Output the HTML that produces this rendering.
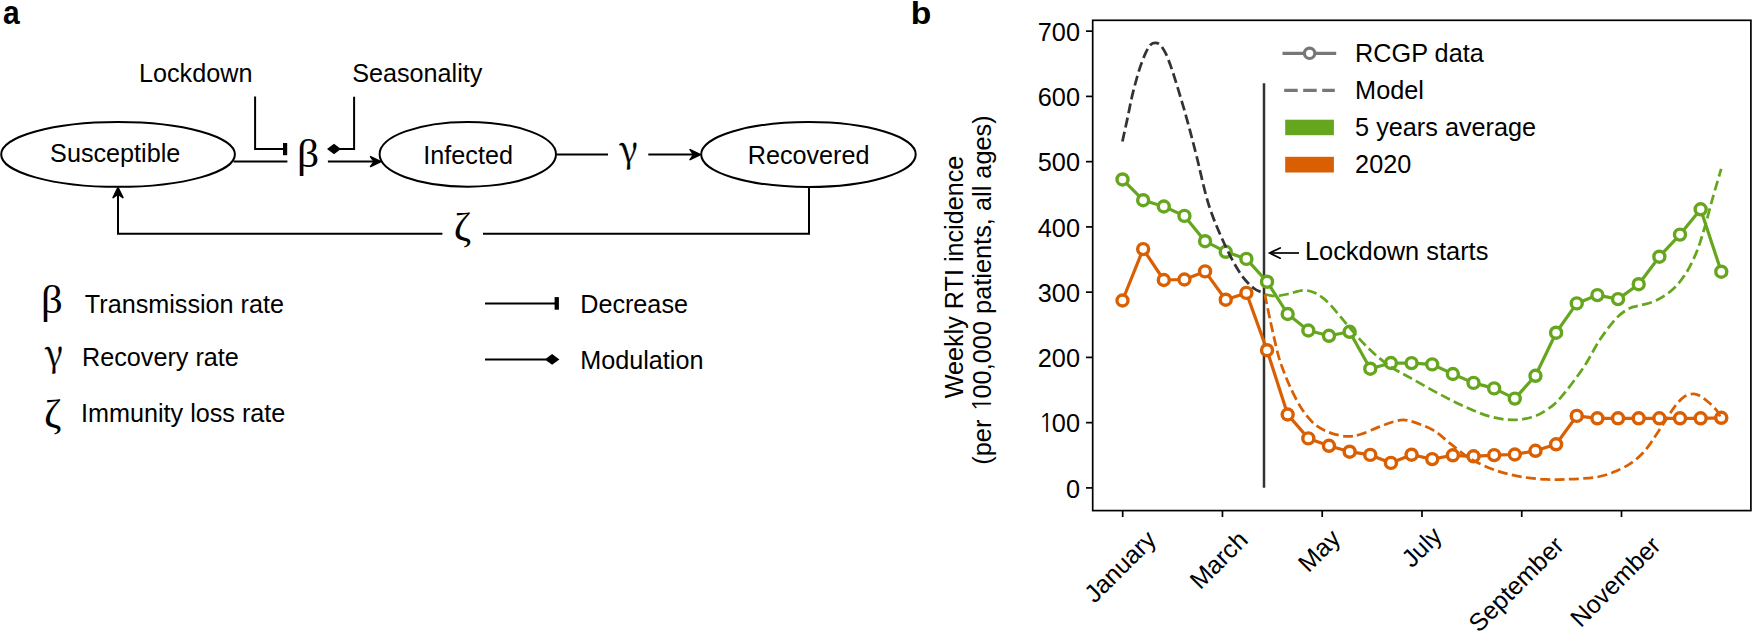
<!DOCTYPE html>
<html><head><meta charset="utf-8"><style>html,body{margin:0;padding:0;background:#fff;}svg{display:block;}</style></head><body>
<svg width="1752" height="632" viewBox="0 0 1752 632">
<rect width="1752" height="632" fill="#fff"/>
<g font-family="Liberation Sans, sans-serif" fill="#000">
<text transform="translate(3.10,23.67) scale(0.912,1)" font-size="32.91" font-weight="bold">a</text>
<text transform="translate(910.81,24.18) scale(1.044,1)" font-size="32.24" font-weight="bold">b</text>
<text x="139" y="82.3" font-size="25.2">Lockdown</text>
<text x="352.2" y="82.1" font-size="25.2">Seasonality</text>
<text x="50.1" y="161.5" font-size="25.2">Susceptible</text>
<text x="423.3" y="163.8" font-size="25.2">Infected</text>
<text x="747.7" y="163.9" font-size="25.2">Recovered</text>
<text x="84.8" y="313.4" font-size="25.2">Transmission rate</text>
<text x="82" y="365.9" font-size="25.2">Recovery rate</text>
<text x="81" y="421.7" font-size="25.2">Immunity loss rate</text>
<text x="580.2" y="312.9" font-size="25.2">Decrease</text>
<text x="580.2" y="368.6" font-size="25.2">Modulation</text>
</g>
<text transform="translate(297.07,166.59) scale(1.100,1)" font-family="Liberation Serif, serif" font-size="39.56">β</text>
<text transform="translate(619.20,162.23) scale(0.957,1)" font-family="Noto Serif CJK SC, serif" font-size="36.46" stroke="#000" stroke-width="0.35">γ</text>
<text transform="translate(453.81,239.54) scale(1.042,1)" font-family="Liberation Serif, serif" font-size="40.34">ζ</text>
<text transform="translate(41.12,313.30) scale(1.069,1)" font-family="Liberation Serif, serif" font-size="40.00">β</text>
<text transform="translate(44.80,365.70) scale(0.937,1)" font-family="Noto Serif CJK SC, serif" font-size="36.60" stroke="#000" stroke-width="0.35">γ</text>
<text transform="translate(43.91,426.52) scale(1.039,1)" font-family="Liberation Serif, serif" font-size="40.46">ζ</text>
<g fill="none" stroke="#000" stroke-width="2">
<ellipse cx="118.05" cy="154.4" rx="116.85" ry="32.45"/>
<ellipse cx="467.8" cy="154.3" rx="88.2" ry="32.4"/>
<ellipse cx="808.45" cy="154.5" rx="107.25" ry="32.45"/>
<polyline points="255.1,96.6 255.1,149.1 284,149.1"/>
<polyline points="354.1,96.8 354.1,149.1 340,149.1"/>
<line x1="233.5" y1="161.6" x2="287.4" y2="161.6"/>
<line x1="327.9" y1="161.6" x2="375" y2="161.6"/>
<line x1="556.6" y1="154.6" x2="608" y2="154.6"/>
<line x1="648.3" y1="154.6" x2="694" y2="154.6"/>
<polyline points="809,187.6 809,233.7 483,233.7"/>
<polyline points="442.4,233.7 118,233.7 118,194"/>
<line x1="485" y1="303.4" x2="556" y2="303.4"/>
<line x1="485" y1="359.6" x2="546" y2="359.6"/>
</g>
<g fill="#000" stroke="none">
<rect x="283" y="143" width="4.2" height="12.2"/>
<rect x="554.6" y="297.1" width="4.3" height="12.6"/>
<polygon points="327,149 334,143.8 341,149 334,154.2"/>
<polygon points="544.8,359.4 552.1,354 559.4,359.4 552.1,364.8"/>
</g>
<g fill="#000" stroke="#000" stroke-width="1.6" stroke-linejoin="round">
<polygon points="381,161.6 370.6,156.7 374.2,161.6 370.6,166.5"/>
<polygon points="700.6,154.6 690.1,149.6 693.6,154.6 690.1,159.6"/>
<polygon points="118,187.6 113.1,197.6 118,194.2 122.9,197.6"/>
</g>
<line x1="1264" y1="83.2" x2="1264" y2="487.7" stroke="#333333" stroke-width="2.5"/>
<polyline points="1122.50,179.45 1143.15,200.20 1163.80,206.50 1184.44,215.90 1205.09,241.20 1225.74,251.80 1246.39,258.90 1267.04,281.70 1287.68,314.00 1308.33,330.50 1328.98,335.80 1349.63,331.80 1370.28,368.70 1390.92,363.00 1411.57,363.10 1432.22,364.40 1452.87,374.00 1473.52,382.90 1494.16,388.40 1514.81,398.60 1535.46,375.80 1556.11,332.70 1576.76,303.40 1597.40,295.10 1618.05,299.10 1638.70,284.20 1659.35,256.70 1680.00,234.60 1700.64,209.30 1721.29,271.70" fill="none" stroke="#66a61e" stroke-width="3.2" stroke-linejoin="round"/>
<circle cx="1122.50" cy="179.45" r="5.5" fill="#fff" stroke="#66a61e" stroke-width="3.4"/>
<circle cx="1143.15" cy="200.20" r="5.5" fill="#fff" stroke="#66a61e" stroke-width="3.4"/>
<circle cx="1163.80" cy="206.50" r="5.5" fill="#fff" stroke="#66a61e" stroke-width="3.4"/>
<circle cx="1184.44" cy="215.90" r="5.5" fill="#fff" stroke="#66a61e" stroke-width="3.4"/>
<circle cx="1205.09" cy="241.20" r="5.5" fill="#fff" stroke="#66a61e" stroke-width="3.4"/>
<circle cx="1225.74" cy="251.80" r="5.5" fill="#fff" stroke="#66a61e" stroke-width="3.4"/>
<circle cx="1246.39" cy="258.90" r="5.5" fill="#fff" stroke="#66a61e" stroke-width="3.4"/>
<circle cx="1267.04" cy="281.70" r="5.5" fill="#fff" stroke="#66a61e" stroke-width="3.4"/>
<circle cx="1287.68" cy="314.00" r="5.5" fill="#fff" stroke="#66a61e" stroke-width="3.4"/>
<circle cx="1308.33" cy="330.50" r="5.5" fill="#fff" stroke="#66a61e" stroke-width="3.4"/>
<circle cx="1328.98" cy="335.80" r="5.5" fill="#fff" stroke="#66a61e" stroke-width="3.4"/>
<circle cx="1349.63" cy="331.80" r="5.5" fill="#fff" stroke="#66a61e" stroke-width="3.4"/>
<circle cx="1370.28" cy="368.70" r="5.5" fill="#fff" stroke="#66a61e" stroke-width="3.4"/>
<circle cx="1390.92" cy="363.00" r="5.5" fill="#fff" stroke="#66a61e" stroke-width="3.4"/>
<circle cx="1411.57" cy="363.10" r="5.5" fill="#fff" stroke="#66a61e" stroke-width="3.4"/>
<circle cx="1432.22" cy="364.40" r="5.5" fill="#fff" stroke="#66a61e" stroke-width="3.4"/>
<circle cx="1452.87" cy="374.00" r="5.5" fill="#fff" stroke="#66a61e" stroke-width="3.4"/>
<circle cx="1473.52" cy="382.90" r="5.5" fill="#fff" stroke="#66a61e" stroke-width="3.4"/>
<circle cx="1494.16" cy="388.40" r="5.5" fill="#fff" stroke="#66a61e" stroke-width="3.4"/>
<circle cx="1514.81" cy="398.60" r="5.5" fill="#fff" stroke="#66a61e" stroke-width="3.4"/>
<circle cx="1535.46" cy="375.80" r="5.5" fill="#fff" stroke="#66a61e" stroke-width="3.4"/>
<circle cx="1556.11" cy="332.70" r="5.5" fill="#fff" stroke="#66a61e" stroke-width="3.4"/>
<circle cx="1576.76" cy="303.40" r="5.5" fill="#fff" stroke="#66a61e" stroke-width="3.4"/>
<circle cx="1597.40" cy="295.10" r="5.5" fill="#fff" stroke="#66a61e" stroke-width="3.4"/>
<circle cx="1618.05" cy="299.10" r="5.5" fill="#fff" stroke="#66a61e" stroke-width="3.4"/>
<circle cx="1638.70" cy="284.20" r="5.5" fill="#fff" stroke="#66a61e" stroke-width="3.4"/>
<circle cx="1659.35" cy="256.70" r="5.5" fill="#fff" stroke="#66a61e" stroke-width="3.4"/>
<circle cx="1680.00" cy="234.60" r="5.5" fill="#fff" stroke="#66a61e" stroke-width="3.4"/>
<circle cx="1700.64" cy="209.30" r="5.5" fill="#fff" stroke="#66a61e" stroke-width="3.4"/>
<circle cx="1721.29" cy="271.70" r="5.5" fill="#fff" stroke="#66a61e" stroke-width="3.4"/>
<polyline points="1122.50,300.50 1143.15,249.10 1163.80,280.00 1184.44,279.50 1205.09,271.40 1225.74,299.70 1246.39,292.90 1267.04,350.20 1287.68,414.50 1308.33,438.40 1328.98,445.80 1349.63,451.70 1370.28,454.90 1390.92,462.90 1411.57,454.70 1432.22,459.10 1452.87,455.30 1473.52,456.30 1494.16,455.10 1514.81,454.50 1535.46,450.80 1556.11,444.30 1576.76,415.90 1597.40,418.30 1618.05,418.30 1638.70,418.30 1659.35,418.30 1680.00,418.30 1700.64,418.30 1721.29,417.80" fill="none" stroke="#d95f02" stroke-width="3.2" stroke-linejoin="round"/>
<circle cx="1122.50" cy="300.50" r="5.5" fill="#fff" stroke="#d95f02" stroke-width="3.4"/>
<circle cx="1143.15" cy="249.10" r="5.5" fill="#fff" stroke="#d95f02" stroke-width="3.4"/>
<circle cx="1163.80" cy="280.00" r="5.5" fill="#fff" stroke="#d95f02" stroke-width="3.4"/>
<circle cx="1184.44" cy="279.50" r="5.5" fill="#fff" stroke="#d95f02" stroke-width="3.4"/>
<circle cx="1205.09" cy="271.40" r="5.5" fill="#fff" stroke="#d95f02" stroke-width="3.4"/>
<circle cx="1225.74" cy="299.70" r="5.5" fill="#fff" stroke="#d95f02" stroke-width="3.4"/>
<circle cx="1246.39" cy="292.90" r="5.5" fill="#fff" stroke="#d95f02" stroke-width="3.4"/>
<circle cx="1267.04" cy="350.20" r="5.5" fill="#fff" stroke="#d95f02" stroke-width="3.4"/>
<circle cx="1287.68" cy="414.50" r="5.5" fill="#fff" stroke="#d95f02" stroke-width="3.4"/>
<circle cx="1308.33" cy="438.40" r="5.5" fill="#fff" stroke="#d95f02" stroke-width="3.4"/>
<circle cx="1328.98" cy="445.80" r="5.5" fill="#fff" stroke="#d95f02" stroke-width="3.4"/>
<circle cx="1349.63" cy="451.70" r="5.5" fill="#fff" stroke="#d95f02" stroke-width="3.4"/>
<circle cx="1370.28" cy="454.90" r="5.5" fill="#fff" stroke="#d95f02" stroke-width="3.4"/>
<circle cx="1390.92" cy="462.90" r="5.5" fill="#fff" stroke="#d95f02" stroke-width="3.4"/>
<circle cx="1411.57" cy="454.70" r="5.5" fill="#fff" stroke="#d95f02" stroke-width="3.4"/>
<circle cx="1432.22" cy="459.10" r="5.5" fill="#fff" stroke="#d95f02" stroke-width="3.4"/>
<circle cx="1452.87" cy="455.30" r="5.5" fill="#fff" stroke="#d95f02" stroke-width="3.4"/>
<circle cx="1473.52" cy="456.30" r="5.5" fill="#fff" stroke="#d95f02" stroke-width="3.4"/>
<circle cx="1494.16" cy="455.10" r="5.5" fill="#fff" stroke="#d95f02" stroke-width="3.4"/>
<circle cx="1514.81" cy="454.50" r="5.5" fill="#fff" stroke="#d95f02" stroke-width="3.4"/>
<circle cx="1535.46" cy="450.80" r="5.5" fill="#fff" stroke="#d95f02" stroke-width="3.4"/>
<circle cx="1556.11" cy="444.30" r="5.5" fill="#fff" stroke="#d95f02" stroke-width="3.4"/>
<circle cx="1576.76" cy="415.90" r="5.5" fill="#fff" stroke="#d95f02" stroke-width="3.4"/>
<circle cx="1597.40" cy="418.30" r="5.5" fill="#fff" stroke="#d95f02" stroke-width="3.4"/>
<circle cx="1618.05" cy="418.30" r="5.5" fill="#fff" stroke="#d95f02" stroke-width="3.4"/>
<circle cx="1638.70" cy="418.30" r="5.5" fill="#fff" stroke="#d95f02" stroke-width="3.4"/>
<circle cx="1659.35" cy="418.30" r="5.5" fill="#fff" stroke="#d95f02" stroke-width="3.4"/>
<circle cx="1680.00" cy="418.30" r="5.5" fill="#fff" stroke="#d95f02" stroke-width="3.4"/>
<circle cx="1700.64" cy="418.30" r="5.5" fill="#fff" stroke="#d95f02" stroke-width="3.4"/>
<circle cx="1721.29" cy="417.80" r="5.5" fill="#fff" stroke="#d95f02" stroke-width="3.4"/>
<path d="M1122.40,141.50 C1123.28,137.47 1126.17,124.50 1127.70,117.30 C1129.23,110.10 1130.28,104.10 1131.60,98.30 C1132.92,92.50 1134.15,87.78 1135.60,82.50 C1137.05,77.22 1138.58,71.62 1140.30,66.60 C1142.02,61.58 1144.18,56.03 1145.90,52.40 C1147.62,48.77 1149.03,46.38 1150.60,44.80 C1152.17,43.22 1153.72,42.90 1155.30,42.90 C1156.88,42.90 1158.38,43.08 1160.10,44.80 C1161.82,46.52 1163.88,49.82 1165.60,53.20 C1167.32,56.58 1168.82,60.75 1170.40,65.10 C1171.98,69.45 1173.52,74.30 1175.10,79.30 C1176.68,84.30 1178.32,89.82 1179.90,95.10 C1181.48,100.38 1183.02,105.45 1184.60,111.00 C1186.18,116.55 1187.45,121.07 1189.40,128.40 C1191.35,135.73 1193.03,142.13 1196.30,155.00 C1199.57,167.87 1204.13,190.40 1209.00,205.60 C1213.87,220.80 1220.22,234.80 1225.50,246.20 C1230.78,257.60 1236.05,267.03 1240.70,274.00 C1245.35,280.97 1249.68,284.87 1253.40,288.00 C1257.12,291.13 1261.40,292.00 1263.00,292.80" fill="none" stroke="#333333" stroke-width="2.75" stroke-dasharray="10 4.35"/>
<path d="M1264.80,294.30 C1266.55,294.60 1271.43,296.15 1275.30,296.10 C1279.17,296.05 1283.35,294.97 1288.00,294.00 C1292.65,293.03 1298.57,290.42 1303.20,290.30 C1307.83,290.18 1311.58,291.20 1315.80,293.30 C1320.02,295.40 1323.85,298.35 1328.50,302.90 C1333.15,307.45 1338.63,314.68 1343.70,320.60 C1348.77,326.52 1353.85,332.92 1358.90,338.40 C1363.95,343.88 1368.52,348.65 1374.00,353.50 C1379.48,358.35 1385.80,363.48 1391.80,367.50 C1397.80,371.52 1402.30,373.30 1410.00,377.60 C1417.70,381.90 1429.12,388.58 1438.00,393.30 C1446.88,398.02 1454.87,402.10 1463.30,405.90 C1471.73,409.70 1480.58,413.77 1488.60,416.10 C1496.62,418.43 1504.23,419.70 1511.40,419.90 C1518.57,420.10 1525.70,419.00 1531.60,417.30 C1537.50,415.60 1542.07,412.85 1546.80,409.70 C1551.53,406.55 1553.93,405.35 1560.00,398.40 C1566.07,391.45 1576.57,377.77 1583.20,368.00 C1589.83,358.23 1594.27,348.10 1599.80,339.80 C1605.33,331.50 1611.42,323.47 1616.40,318.20 C1621.38,312.93 1625.77,310.33 1629.70,308.20 C1633.63,306.07 1635.60,306.68 1640.00,305.40 C1644.40,304.12 1650.72,303.10 1656.10,300.50 C1661.48,297.90 1667.37,294.27 1672.30,289.80 C1677.23,285.33 1681.67,279.97 1685.70,273.70 C1689.73,267.43 1693.37,259.82 1696.50,252.20 C1699.63,244.58 1701.82,236.97 1704.50,228.00 C1707.18,219.03 1709.82,208.27 1712.60,198.40 C1715.38,188.53 1719.77,173.73 1721.20,168.80" fill="none" stroke="#66a61e" stroke-width="2.75" stroke-dasharray="10 4.35"/>
<path d="M1264.80,294.30 C1265.72,298.68 1268.13,310.73 1270.30,320.60 C1272.47,330.47 1275.65,345.27 1277.80,353.50 C1279.95,361.73 1281.20,364.57 1283.20,370.00 C1285.20,375.43 1286.80,379.77 1289.80,386.10 C1292.80,392.43 1297.08,401.67 1301.20,408.00 C1305.32,414.33 1309.75,420.00 1314.50,424.10 C1319.25,428.20 1324.32,430.55 1329.70,432.60 C1335.08,434.65 1341.75,436.08 1346.80,436.40 C1351.85,436.72 1354.63,436.08 1360.00,434.50 C1365.37,432.92 1373.30,429.05 1379.00,426.90 C1384.70,424.75 1389.45,422.70 1394.20,421.60 C1398.95,420.50 1401.05,418.90 1407.50,420.30 C1413.95,421.70 1425.72,426.07 1432.90,430.00 C1440.08,433.93 1444.27,439.05 1450.60,443.90 C1456.93,448.75 1463.30,454.67 1470.90,459.10 C1478.50,463.53 1487.77,467.55 1496.20,470.50 C1504.63,473.45 1513.07,475.32 1521.50,476.80 C1529.93,478.28 1538.72,479.00 1546.80,479.40 C1554.88,479.80 1562.25,479.50 1570.00,479.20 C1577.75,478.90 1587.20,478.33 1593.30,477.60 C1599.40,476.87 1602.73,475.92 1606.60,474.80 C1610.47,473.68 1613.00,472.47 1616.50,470.90 C1620.00,469.33 1624.45,467.23 1627.60,465.40 C1630.75,463.57 1632.82,462.02 1635.40,459.90 C1637.98,457.78 1640.70,455.28 1643.10,452.70 C1645.50,450.12 1647.58,447.45 1649.80,444.40 C1652.02,441.35 1654.07,437.93 1656.40,434.40 C1658.73,430.87 1661.37,426.92 1663.80,423.20 C1666.23,419.48 1668.88,415.25 1671.00,412.10 C1673.12,408.95 1674.28,406.88 1676.50,404.30 C1678.72,401.72 1681.52,398.35 1684.30,396.60 C1687.08,394.85 1690.62,393.95 1693.20,393.80 C1695.78,393.65 1697.60,394.58 1699.80,395.70 C1702.00,396.82 1704.37,398.88 1706.40,400.50 C1708.43,402.12 1710.15,403.57 1712.00,405.40 C1713.85,407.23 1716.12,409.55 1717.50,411.50 C1718.88,413.45 1719.83,416.17 1720.30,417.10" fill="none" stroke="#d95f02" stroke-width="2.75" stroke-dasharray="10 4.35"/>
<rect x="1092.7" y="20.3" width="658.2" height="490.3" fill="none" stroke="#000" stroke-width="1.7"/>
<g stroke="#000" stroke-width="1.7">
<line x1="1086" y1="487.90" x2="1092.7" y2="487.90"/>
<line x1="1086" y1="422.65" x2="1092.7" y2="422.65"/>
<line x1="1086" y1="357.40" x2="1092.7" y2="357.40"/>
<line x1="1086" y1="292.15" x2="1092.7" y2="292.15"/>
<line x1="1086" y1="226.90" x2="1092.7" y2="226.90"/>
<line x1="1086" y1="161.65" x2="1092.7" y2="161.65"/>
<line x1="1086" y1="96.40" x2="1092.7" y2="96.40"/>
<line x1="1086" y1="31.15" x2="1092.7" y2="31.15"/>
<line x1="1122.70" y1="510.6" x2="1122.70" y2="517"/>
<line x1="1222.46" y1="510.6" x2="1222.46" y2="517"/>
<line x1="1322.22" y1="510.6" x2="1322.22" y2="517"/>
<line x1="1421.98" y1="510.6" x2="1421.98" y2="517"/>
<line x1="1521.74" y1="510.6" x2="1521.74" y2="517"/>
<line x1="1621.50" y1="510.6" x2="1621.50" y2="517"/>
</g>
<g font-family="Liberation Sans, sans-serif" font-size="25" fill="#000">
<text x="1080" y="497.70" text-anchor="end" font-size="25.3">0</text>
<text y="432.45" font-size="25.3"><tspan x="1038.44" font-family="NanumGothic, Liberation Sans, sans-serif">1</tspan><tspan x="1051.86">00</tspan></text>
<text x="1080" y="367.20" text-anchor="end" font-size="25.3">200</text>
<text x="1080" y="301.95" text-anchor="end" font-size="25.3">300</text>
<text x="1080" y="236.70" text-anchor="end" font-size="25.3">400</text>
<text x="1080" y="171.45" text-anchor="end" font-size="25.3">500</text>
<text x="1080" y="106.20" text-anchor="end" font-size="25.3">600</text>
<text x="1080" y="40.95" text-anchor="end" font-size="25.3">700</text>
<text transform="translate(1157.60,541.20) rotate(-45)" text-anchor="end">January</text>
<text transform="translate(1249.30,541.50) rotate(-45)" text-anchor="end">March</text>
<text transform="translate(1341.90,540.00) rotate(-45)" text-anchor="end">May</text>
<text transform="translate(1443.40,537.30) rotate(-45)" text-anchor="end">July</text>
<text transform="translate(1565.40,547.10) rotate(-45)" text-anchor="end">September</text>
<text transform="translate(1662.20,547.00) rotate(-45)" text-anchor="end">November</text>
<text transform="translate(962.5,277.0) rotate(-90)" text-anchor="middle" font-size="25.2">Weekly RTI incidence</text>
<text transform="translate(990.5,290.0) rotate(-90)" font-size="25.35"><tspan x="-174.7">(per </tspan><tspan x="-121.98" font-family="NanumGothic, Liberation Sans, sans-serif">1</tspan><tspan x="-108.5">00,000 patients, all ages)</tspan></text>
<text x="1355.1" y="62.3" font-size="25.25">RCGP data</text>
<text x="1355.1" y="99.2" font-size="25.25">Model</text>
<text x="1355.1" y="135.9" font-size="25.25">5 years average</text>
<text x="1355.1" y="172.6" font-size="25.25">2020</text>
<text x="1304.9" y="260.1" font-size="25.4">Lockdown starts</text>
</g>
<line x1="1282.5" y1="53.3" x2="1336.2" y2="53.3" stroke="#777777" stroke-width="3.2"/>
<circle cx="1309.6" cy="53.3" r="5.2" fill="#fff" stroke="#777777" stroke-width="3.2"/>
<line x1="1284.2" y1="90.4" x2="1334.8" y2="90.4" stroke="#777777" stroke-width="3.3" stroke-dasharray="13.5 5.5"/>
<rect x="1285.2" y="119.7" width="48.7" height="15.5" fill="#66a61e"/>
<rect x="1285.2" y="156.8" width="48.7" height="15.7" fill="#d95f02"/>
<g fill="none" stroke="#000" stroke-width="1.7">
<line x1="1270" y1="253" x2="1299" y2="253"/>
<polyline points="1280.2,247.9 1269.6,253 1280.2,258.2" stroke-linecap="round"/>
</g>
</svg>
</body></html>
